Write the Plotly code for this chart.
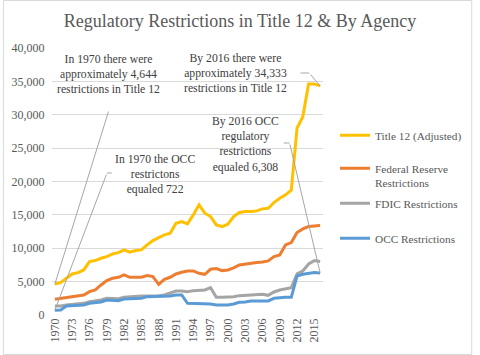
import plotly.graph_objects as go

# ---------------- data ----------------
years = [1970, 1971, 1972, 1973, 1974, 1975, 1976, 1977, 1978, 1979,
         1980, 1981, 1982, 1983, 1984, 1985, 1986, 1987, 1988, 1989,
         1990, 1991, 1992, 1993, 1994, 1995, 1996, 1997, 1998, 1999,
         2000, 2001, 2002, 2003, 2004, 2005, 2006, 2007, 2008, 2009,
         2010, 2011, 2012, 2013, 2014, 2015, 2016]

title12 = [4644, 4850, 5500, 6150, 6350, 6750, 8000, 8150, 8500, 8750,
           9150, 9350, 9750, 9400, 9650, 9750, 10500, 11150, 11600, 12000,
           12250, 13750, 14000, 13650, 15000, 16500, 15250, 14750, 13500, 13250,
           13600, 14750, 15350, 15500, 15500, 15600, 15900, 16000, 16850, 17500,
           18000, 18700, 28000, 29700, 34600, 34600, 34333]

fed = [2350, 2500, 2650, 2750, 2850, 3000, 3500, 3750, 4500, 5150,
       5500, 5650, 6000, 5650, 5650, 5650, 5900, 5750, 4600, 5350,
       5650, 6150, 6400, 6600, 6600, 6250, 6100, 6850, 6950, 6650,
       6750, 7050, 7500, 7650, 7750, 7850, 7950, 8100, 8750, 9000,
       10500, 10850, 12350, 12900, 13250, 13350, 13400]

fdic = [1350, 1350, 1500, 1600, 1650, 1750, 2000, 2100, 2250, 2500,
        2500, 2450, 2650, 2750, 2800, 2850, 2850, 2850, 2900, 3000,
        3250, 3600, 3600, 3500, 3650, 3700, 3750, 4100, 2650, 2650,
        2650, 2750, 2900, 2950, 3000, 3100, 3100, 2950, 3450, 3750,
        3900, 4100, 6150, 6600, 7650, 8150, 8000]

occ = [722, 750, 1350, 1400, 1400, 1500, 1750, 1850, 1950, 2250,
       2150, 2150, 2400, 2450, 2450, 2500, 2750, 2750, 2800, 2850,
       2850, 3000, 3000, 1750, 1750, 1700, 1650, 1650, 1500, 1500,
       1500, 1650, 1900, 1950, 2100, 2100, 2100, 2100, 2500, 2600,
       2650, 2650, 5850, 6100, 6250, 6350, 6308]

series_names = ["Title 12 (Adjusted)", "Federal Reserve<br>Restrictions",
                "FDIC Restrictions", "OCC Restrictions"]
tick_years = [1970, 1973, 1976, 1979, 1982, 1985, 1988, 1991, 1994,
              1997, 2000, 2003, 2006, 2009, 2012, 2015]
tick_labels = [str(y) for y in tick_years]

chart_title = "Regulatory Restrictions in Title 12 & By Agency"
note_1970_t12 = "In 1970 there were<br>approximately 4,644<br>restrictions in Title 12"
note_1970_occ = "In 1970 the OCC<br>restrictons<br>equaled 722"
note_2016_t12 = "By 2016 there were<br>approximately 34,333<br>restrictions in Title 12"
note_2016_occ = "By 2016 OCC<br>regulatory<br>restrictions<br>equaled 6,308"

# ---------------- layout geometry ----------------
W, H = 480, 355
L, R, T, B = 50, 154, 48, 40
PW, PH = W - L - R, H - T - B
XR = [1969.5, 2016.5]
YR = [0, 40000]


def px(xp):
    return (xp - L) / PW


def py(yp):
    return (H - B - yp) / PH


def dx(xp):
    return XR[0] + (xp - L) / PW * (XR[1] - XR[0])


def dy(yp):
    return YR[0] + (H - B - yp) / PH * (YR[1] - YR[0])


FONT = "Liberation Serif"
colors = ["#FFC000", "#ED7D31", "#A5A5A5", "#5B9BD5"]
legend_ids = ["legend", "legend2", "legend3", "legend4"]
legend_y_px = [136, 176, 204, 239]

fig = go.Figure()
for vals, name, col, lg in zip([title12, fed, fdic, occ], series_names, colors, legend_ids):
    fig.add_trace(go.Scatter(x=years, y=vals, name=name, mode="lines",
                             line=dict(color=col, width=3), legend=lg))

legend_common = dict(font=dict(family=FONT, size=11.3, color="#595959"),
                     bgcolor="rgba(0,0,0,0)", xref="container", yref="container",
                     xanchor="left", yanchor="middle", valign="top")
for lg, ypx in zip(legend_ids, legend_y_px):
    fig.update_layout(**{lg: dict(x=335 / W, y=1 - ypx / H, **legend_common)})

annotations = []
text_font = dict(family=FONT, size=11.7, color="#404040")
for txt, cx, cy in [(note_1970_t12, 108, 74), (note_1970_occ, 155, 174),
                    (note_2016_t12, 237, 73), (note_2016_occ, 247, 144)]:
    annotations.append(dict(text=txt, x=px(cx), y=py(cy), xref="paper", yref="paper",
                            xanchor="center", yanchor="middle", showarrow=False,
                            font=text_font))

# leader lines: (data point index, series, tail pixel)
leaders = [(0, title12, 108, 110), (0, occ, 106, 173),
           (-1, title12, 312, 73), (-1, occ, 292, 143)]
for idx, ser, tx, ty in leaders:
    annotations.append(dict(text="", x=years[idx], y=ser[idx], xref="x", yref="y",
                            ax=dx(tx), ay=dy(ty), axref="x", ayref="y",
                            showarrow=True, arrowhead=0, arrowwidth=1,
                            arrowcolor="#a6a6a6", standoff=0, startstandoff=0))

shapes = []
for x0, x1, yy in [(106, 111, 173), (303, 312, 73), (286, 292, 143)]:
    shapes.append(dict(type="line", xref="paper", yref="paper",
                       x0=px(x0), x1=px(x1), y0=py(yy), y1=py(yy),
                       line=dict(color="#a6a6a6", width=1)))
# outer chart border
shapes.append(dict(type="rect", xref="paper", yref="paper", layer="below",
                   x0=px(0.5), x1=px(477.5), y0=py(354.5), y1=py(0.5),
                   line=dict(color="#d9d9d9", width=1)))

fig.update_layout(
    width=W, height=H,
    font=dict(family=FONT, size=12, color="#595959"),
    margin=dict(l=L, r=R, t=T, b=B),
    paper_bgcolor="white", plot_bgcolor="white",
    title=dict(text=chart_title, x=0.5, xref="container", xanchor="center",
               y=1 - 21 / H, yanchor="middle",
               font=dict(family=FONT, size=18, color="#595959")),
    xaxis=dict(range=XR, tickmode="array", tickvals=tick_years, ticktext=tick_labels,
               tickangle=-90, showgrid=False, zeroline=False, showline=False,
               ticks="", tickfont=dict(family=FONT, size=12, color="#595959")),
    yaxis=dict(range=YR, dtick=5000, tickformat=",", showgrid=True,
               gridcolor="#d9d9d9", gridwidth=1, zeroline=False, showline=False,
               ticks="outside", ticklen=4, tickcolor="rgba(0,0,0,0)",
               tickfont=dict(family=FONT, size=12, color="#595959")),
    annotations=annotations,
    shapes=shapes,
    showlegend=True,
)

fig.write_html("out.html", config={"displayModeBar": False},
               post_script="document.body.style.margin='0px';document.body.style.padding='0px';")
